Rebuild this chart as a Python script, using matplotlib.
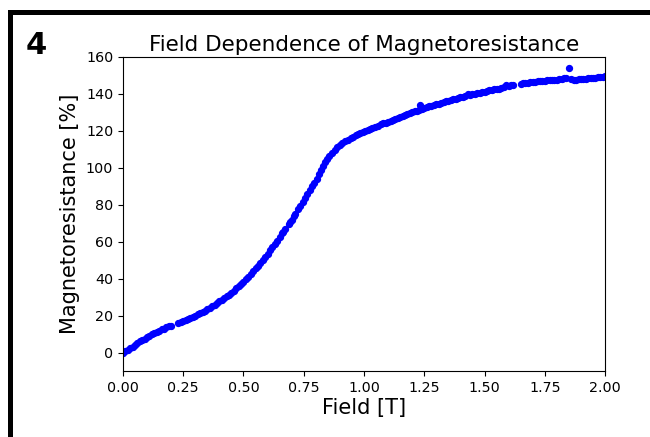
import matplotlib.pyplot as plt
from matplotlib.patches import Rectangle

# field [T] and magnetoresistance [%]
field = [0.00, 0.01, 0.02, 0.03, 0.04, 0.05, 0.06, 0.07, 0.08, 0.09,
         0.10, 0.11, 0.12, 0.13, 0.14, 0.15, 0.16, 0.17, 0.18, 0.19,
         0.20, 0.23, 0.24, 0.25, 0.26, 0.27, 0.28, 0.29, 0.30, 0.31,
         0.32, 0.33, 0.34, 0.35, 0.36, 0.37, 0.38, 0.39, 0.40, 0.41,
         0.42, 0.43, 0.44, 0.45, 0.46, 0.47, 0.48, 0.49, 0.50, 0.51,
         0.52, 0.53, 0.54, 0.55, 0.56, 0.57, 0.58, 0.59, 0.60, 0.61,
         0.62, 0.63, 0.64, 0.65, 0.66, 0.665, 0.672, 0.69, 0.695, 0.70,
         0.71, 0.715, 0.726, 0.735, 0.745, 0.755, 0.765, 0.776, 0.785, 0.793,
         0.803, 0.813, 0.822, 0.83, 0.838, 0.846, 0.855, 0.867, 0.878, 0.89,
         0.90, 0.91, 0.92, 0.934, 0.945, 0.955, 0.965, 0.975, 0.985, 0.995,
         1.005, 1.015, 1.025, 1.035, 1.045, 1.058, 1.07, 1.08, 1.09, 1.10,
         1.11, 1.12, 1.13, 1.14, 1.15, 1.16, 1.17, 1.18, 1.19, 1.20,
         1.21, 1.22, 1.23, 1.232, 1.24, 1.25, 1.26, 1.27, 1.28, 1.29,
         1.30, 1.31, 1.32, 1.33, 1.34, 1.35, 1.36, 1.37, 1.38, 1.39,
         1.40, 1.41, 1.42, 1.43, 1.44, 1.45, 1.46, 1.47, 1.48, 1.49,
         1.50, 1.51, 1.52, 1.53, 1.54, 1.55, 1.56, 1.57, 1.58, 1.59,
         1.60, 1.61, 1.62, 1.65, 1.66, 1.67, 1.68, 1.69, 1.70, 1.71,
         1.72, 1.73, 1.74, 1.75, 1.76, 1.77, 1.78, 1.79, 1.80, 1.81,
         1.82, 1.83, 1.84, 1.85, 1.86, 1.87, 1.88, 1.89, 1.90, 1.91,
         1.92, 1.93, 1.94, 1.95, 1.96, 1.97, 1.98, 1.99, 2.00]
mr = [0.0, 0.8, 1.6, 2.4, 3.2, 4.2, 5.0, 6.0, 6.8, 7.6,
      8.4, 9.1, 9.9, 10.6, 11.2, 11.9, 12.5, 13.0, 13.6, 14.1,
      14.6, 15.8, 16.3, 16.9, 17.5, 18.1, 18.7, 19.3, 20.0, 20.6,
      21.3, 22.0, 22.7, 23.4, 24.2, 25.0, 25.9, 26.8, 27.7, 28.6,
      29.5, 30.4, 31.4, 32.4, 33.5, 34.7, 35.9, 37.1, 38.4, 39.7,
      41.0, 42.4, 43.9, 45.5, 47.0, 48.6, 50.2, 51.9, 53.6, 55.3,
      56.9, 58.7, 60.6, 62.5, 64.5, 65.5, 66.8, 69.5, 70.8, 72.0,
      74.0, 75.0, 77.5, 79.5, 81.5, 83.5, 85.6, 87.8, 90.0, 91.8,
      94.2, 96.6, 99.0, 101.2, 103.0, 104.6, 106.2, 108.0, 109.6, 111.0,
      112.3, 113.4, 114.3, 115.3, 116.2, 116.9, 117.5, 118.1, 118.7, 119.3,
      119.8, 120.3, 120.8, 121.4, 122.0, 122.8, 123.6, 124.1, 124.5, 125.0,
      125.6, 126.0, 126.6, 127.0, 127.6, 128.0, 128.6, 129.0, 129.5, 130.0,
      130.5, 130.9, 131.4, 134.0, 131.8, 132.3, 132.7, 133.2, 133.5, 134.0,
      134.4, 134.8, 135.2, 135.6, 136.0, 136.3, 136.7, 137.1, 137.4, 137.8,
      138.1, 138.5, 139.0, 140.0, 139.5, 139.8, 140.1, 140.4, 140.7, 141.0,
      141.3, 141.6, 141.9, 142.1, 142.4, 142.7, 142.9, 143.2, 143.8, 145.0,
      144.4, 144.6, 144.8, 145.4, 145.7, 145.9, 146.1, 146.3, 146.5, 146.6,
      146.8, 146.9, 147.0, 147.2, 147.3, 147.4, 147.5, 147.6, 147.8, 147.9,
      148.1, 148.4, 148.7, 154.2, 147.9, 147.5, 147.6, 147.9, 148.1, 148.2,
      148.3, 148.5, 148.6, 148.7, 148.8, 149.0, 149.1, 149.3, 149.5]

x_ticks = [0.00, 0.25, 0.50, 0.75, 1.00, 1.25, 1.50, 1.75, 2.00]
y_ticks = [0, 20, 40, 60, 80, 100, 120, 140, 160]

fig = plt.figure(figsize=(6.5, 4.37), dpi=100)
ax = fig.add_axes([0.1892, 0.151, 0.7416, 0.7186])

ax.scatter(field, mr, s=18, c="blue")
ax.set_xlim(0, 2)
ax.set_ylim(-10, 160)
ax.set_xticks(x_ticks)
ax.set_yticks(y_ticks)
ax.tick_params(labelsize=10.3)
ax.set_title("Field Dependence of Magnetoresistance", fontsize=15.5, pad=4)
ax.set_xlabel("Field [T]", fontsize=15, labelpad=2)
ax.set_ylabel("Magnetoresistance [%]", fontsize=15, labelpad=4)

# panel frame and number
fig.add_artist(Rectangle((8 / 650, 0), 5 / 650, 1 - 10 / 437,
                         transform=fig.transFigure, color="black", lw=0))
fig.add_artist(Rectangle((8 / 650, 1 - 15 / 437), 1, 5 / 437,
                         transform=fig.transFigure, color="black", lw=0))
fig.text(26 / 650, 1 - 54 / 437, "4", fontsize=22, fontweight="heavy",
         family="DejaVu Sans")

fig.savefig("out.png", dpi=100)
